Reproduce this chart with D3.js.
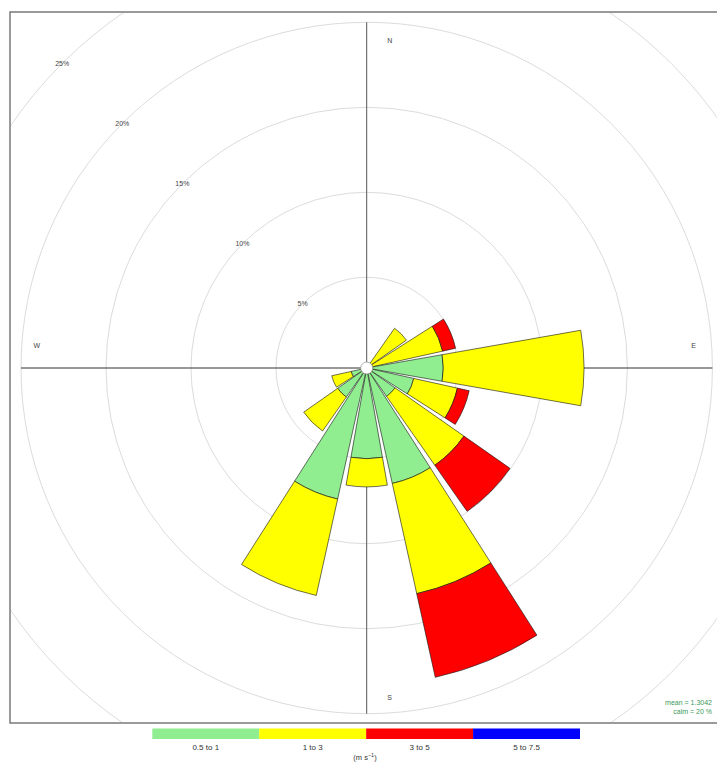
<!DOCTYPE html>
<html>
<head>
<meta charset="utf-8">
<script src="https://cdn.jsdelivr.net/npm/d3@7"></script>
<style>
  html, body { margin: 0; padding: 0; background: #fff; }
  svg { display: block; font-family: "Liberation Sans", Arial, sans-serif; }
</style>
</head>
<body>
<svg id="chart" width="717" height="762"></svg>
<script>
// Wind direction bins (degrees, clockwise from north)
const directions = [0, 22.5, 45, 67.5, 90, 112.5, 135, 157.5, 180, 202.5, 225, 247.5, 270, 292.5, 315, 337.5];

// Speed bands and their colours
const bands = ["0.5 to 1", "1 to 3", "3 to 5", "5 to 7.5"];
const bandColors = ["#90EE90", "#FFFF00", "#FF0000", "#0000FF"];

// Frequency (%) of each speed band per direction
const band1 = [0, 0, 0, 0, 4.17, 2.5, 1.7, 6.62, 5.0, 7.56, 1.75, 0.6, 0, 0, 0, 0];
const band2 = [0, 0, 2.52, 4.24, 8.28, 2.63, 4.95, 6.64, 1.66, 5.81, 2.44, 1.17, 0, 0, 0, 0];
const band3 = [0, 0, 0, 0.78, 0, 0.71, 3.31, 5.04, 0, 0, 0, 0, 0, 0, 0, 0];
const band4 = [0, 0, 0, 0, 0, 0, 0, 0, 0, 0, 0, 0, 0, 0, 0, 0];

// Grid rings (%) and compass labels
const ringTicks = [5, 10, 15, 20, 25];
const compass = ["N", "E", "S", "W"];

// Summary statistics
const meanSpeed = "1.3042";
const calmPct = "20";

const svg = d3.select("#chart");
const cx = 366.7, cy = 368;
const panel = { x: 10, y: 12, w: 713, h: 711 };

// radial scale: small hole in the middle, then linear in percent
const r = d3.scaleLinear().domain([0, 20]).range([5.7, 345.7]);

svg.append("defs").append("clipPath").attr("id", "panelClip")
  .append("rect").attr("x", panel.x).attr("y", panel.y).attr("width", panel.w).attr("height", panel.h);

const plot = svg.append("g").attr("clip-path", "url(#panelClip)");

// grid rings
plot.selectAll("circle.ring").data(ringTicks).join("circle")
  .attr("class", "ring")
  .attr("cx", cx).attr("cy", cy).attr("r", d => r(d))
  .attr("fill", "none").attr("stroke", "#dcdcdc").attr("stroke-width", 1);

// axes through the centre
const axisLen = r(20);
plot.append("line").attr("x1", cx - axisLen).attr("x2", cx + axisLen).attr("y1", cy).attr("y2", cy)
  .attr("stroke", "#333").attr("stroke-width", 1);
plot.append("line").attr("x1", cx).attr("x2", cx).attr("y1", cy - axisLen).attr("y2", cy + axisLen)
  .attr("stroke", "#555").attr("stroke-width", 1);

// ring labels along the NW diagonal
const diag = -Math.PI / 4 * 3;
plot.selectAll("text.ringlab").data(ringTicks).join("text")
  .attr("class", "ringlab")
  .attr("x", d => cx + r(d) * Math.cos(diag))
  .attr("y", d => cy + r(d) * Math.sin(diag))
  .attr("text-anchor", "middle").attr("dominant-baseline", "central")
  .attr("font-size", 7).attr("fill", "#444")
  .text(d => d + "%");

// compass labels
const compassPos = [
  { x: cx + 23, y: cy - 328 },
  { x: cx + 327, y: cy - 23 },
  { x: cx + 23, y: cy + 329 },
  { x: cx - 330, y: cy - 23 }
];
plot.selectAll("text.compass").data(compass).join("text")
  .attr("class", "compass")
  .attr("x", (d, i) => compassPos[i].x).attr("y", (d, i) => compassPos[i].y)
  .attr("text-anchor", "middle").attr("dominant-baseline", "central")
  .attr("font-size", 7).attr("fill", "#444")
  .text(d => d);

// stacked petals
const series = [band1, band2, band3, band4];
const halfWidth = 10 * Math.PI / 180;
const arc = d3.arc();
const petals = [];
directions.forEach((dir, i) => {
  let cum = 0;
  series.forEach((s, b) => {
    const v = s[i];
    if (v > 0) {
      petals.push({ dir, b, lo: cum, hi: cum + v });
      cum += v;
    }
  });
});
plot.append("g").attr("transform", `translate(${cx},${cy})`)
  .selectAll("path").data(petals).join("path")
  .attr("d", d => {
    const a = d.dir * Math.PI / 180;
    return arc({ innerRadius: r(d.lo), outerRadius: r(d.hi), startAngle: a - halfWidth, endAngle: a + halfWidth });
  })
  .attr("fill", d => bandColors[d.b])
  .attr("stroke", "#111").attr("stroke-width", 0.6);

// centre hole
plot.append("circle").attr("cx", cx).attr("cy", cy).attr("r", 6)
  .attr("fill", "#fff").attr("stroke", "#999").attr("stroke-width", 0.8);

// summary statistics
const stats = plot.append("g").attr("font-size", 7).attr("fill", "#3a9a5a").attr("text-anchor", "end");
stats.append("text").attr("x", 712).attr("y", 704.5).text("mean = " + meanSpeed);
stats.append("text").attr("x", 712).attr("y", 714).text("calm = " + calmPct + " %");

// panel border
svg.append("rect").attr("x", panel.x).attr("y", panel.y).attr("width", panel.w).attr("height", panel.h)
  .attr("fill", "none").attr("stroke", "#7a7a7a").attr("stroke-width", 1.5);

// colour key
const key = d3.scaleBand().domain(bands).range([152.3, 580]);
const keyG = svg.append("g");
keyG.selectAll("rect").data(bands).join("rect")
  .attr("x", d => key(d)).attr("y", 728.5).attr("width", key.bandwidth()).attr("height", 10.5)
  .attr("fill", (d, i) => bandColors[i]);
keyG.selectAll("text").data(bands).join("text")
  .attr("x", d => key(d) + key.bandwidth() / 2).attr("y", 749.5)
  .attr("text-anchor", "middle").attr("font-size", 8).attr("fill", "#333")
  .text(d => d);
const unit = svg.append("text").attr("x", 365).attr("y", 759.5)
  .attr("text-anchor", "middle").attr("font-size", 7.5).attr("fill", "#333");
unit.append("tspan").text("(m s");
unit.append("tspan").attr("dy", -3).attr("font-size", 5.5).text("\u22121");
unit.append("tspan").attr("dy", 3).text(")");
</script>
</body>
</html>
